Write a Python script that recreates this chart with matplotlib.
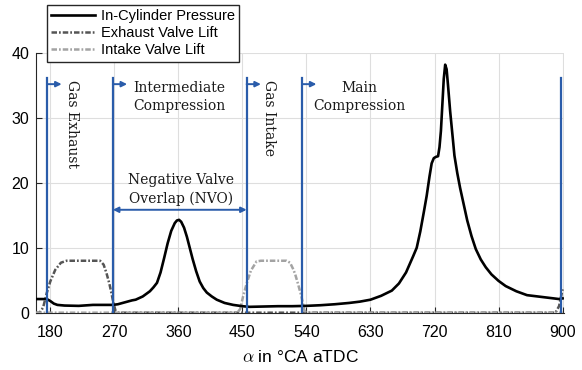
import numpy as np
import matplotlib
matplotlib.use("Agg")
from matplotlib import pyplot as plt

plt.rcParams['font.family'] = ['Liberation Sans', 'DejaVu Sans']
plt.rcParams['mathtext.fontset'] = 'cm'

# in-cylinder pressure (bar) over crank angle
p_ca = [160, 170, 176, 180, 185, 190, 200, 220, 240, 255, 268, 275, 285, 295, 300,
        310, 315, 320, 325, 330, 335, 340, 345, 350, 355, 358, 361, 364, 368, 372, 376,
        380, 385, 390, 395, 400, 407, 414, 425, 437, 450, 460, 480, 500, 520, 540,
        560, 580, 600, 615, 630, 645, 660, 670, 680, 690, 695, 700, 705, 709, 713,
        716, 719, 722, 725, 727, 729, 731, 733, 735, 737, 739, 742, 746, 748, 752,
        756, 760, 766, 772, 778, 785, 792, 800, 810, 820, 835, 850, 865, 880, 895, 900]
p_val = [2.1, 2.1, 2.05, 1.8, 1.4, 1.2, 1.1, 1.05, 1.2, 1.2, 1.2, 1.3, 1.6, 1.9, 2.0,
         2.5, 2.9, 3.3, 3.9, 4.6, 6.2, 8.4, 10.7, 12.6, 13.8, 14.2, 14.3, 14.0, 13.1, 11.7, 10.0,
         8.3, 6.4, 4.8, 3.8, 3.1, 2.5, 2.0, 1.5, 1.2, 1.0, 0.9, 0.95, 1.0, 1.0, 1.05,
         1.15, 1.3, 1.5, 1.7, 2.0, 2.6, 3.4, 4.5, 6.2, 8.7, 10.0, 12.5, 15.5, 18.0, 21.0,
         23.0, 23.8, 24.0, 24.1, 25.5, 28.0, 32.0, 36.0, 38.2, 37.5, 35.0, 31.0, 26.5, 24.2, 21.5,
         19.2, 17.2, 14.2, 11.8, 9.8, 8.2, 7.0, 5.9, 4.9, 4.1, 3.3, 2.7, 2.5, 2.3, 2.1, 2.2]

# exhaust valve lift
ex_ca = [160, 165, 170, 175, 180, 187, 195, 203, 250, 255, 259, 263, 266, 269, 272, 275, 890, 895, 900]
ex_val = [0, 0, 0.8, 3.0, 4.8, 6.6, 7.7, 8.0, 8.0, 7.4, 6.1, 4.5, 3.0, 1.4, 0.2, 0, 0, 1.0, 3.6]

# intake valve lift
in_ca = [160, 443, 447, 451, 456, 462, 470, 476, 512, 517, 521, 524, 528, 533, 537, 540, 900]
in_val = [0, 0, 0.6, 2.5, 4.5, 6.5, 7.9, 8.0, 8.0, 7.7, 6.8, 6.0, 4.5, 2.5, 0.4, 0, 0]

# phase markers
marks = [176, 268, 456, 534, 898]
arrow_from = [176, 268, 456, 534]

xticks = [180, 270, 360, 450, 540, 630, 720, 810, 900]
yticks = [0, 10, 20, 30, 40]

blue = '#2a5caa'

fig = plt.figure(figsize=(5.82, 3.70), dpi=100)
ax = fig.add_axes([0.0619, 0.1549, 0.9072, 0.7019])

dashdot = (0, (2.2, 0.8, 0.7, 0.8))
l1, = ax.plot(p_ca, p_val, color='black', lw=1.9, zorder=4)
l2, = ax.plot(ex_ca, ex_val, color='#555555', lw=1.8, ls=dashdot, zorder=3)
l3, = ax.plot(in_ca, in_val, color='#a3a3a3', lw=1.8, ls=dashdot, zorder=3)

for m in marks:
    ax.plot([m, m], [0, 36.2], color=blue, lw=1.6, zorder=5)
for a in arrow_from:
    ax.annotate('', xy=(a + 20, 35.2), xytext=(a, 35.2),
                arrowprops=dict(arrowstyle='-|>', color=blue, lw=1.4,
                                mutation_scale=8, shrinkA=0, shrinkB=0))
ax.annotate('', xy=(456, 15.85), xytext=(268, 15.85),
            arrowprops=dict(arrowstyle='<|-|>', color=blue, lw=1.4,
                            mutation_scale=8, shrinkA=0, shrinkB=0))

serif = dict(family='DejaVu Serif', fontsize=10, color='#1a1a1a')
ax.text(210, 35.9, 'Gas Exhaust', rotation=-90, ha='center', va='top', **serif)
ax.text(488, 35.9, 'Gas Intake', rotation=-90, ha='center', va='top', **serif)
ax.text(362, 33.2, 'Intermediate\nCompression', ha='center', va='center', linespacing=1.4, **serif)
ax.text(615, 33.2, 'Main\nCompression', ha='center', va='center', linespacing=1.4, **serif)
ax.text(364, 19.0, 'Negative Valve\nOverlap (NVO)', ha='center', va='center', linespacing=1.4, **serif)

ax.set_xlim(160, 902)
ax.set_ylim(0, 40)
ax.set_xticks(xticks)
ax.set_yticks(yticks)
ax.grid(True, color='#dedede', lw=0.8)
ax.set_axisbelow(True)
for s in ['top', 'right']:
    ax.spines[s].set_visible(False)
for s in ['left', 'bottom']:
    ax.spines[s].set_color('#262626')
    ax.spines[s].set_linewidth(0.8)
ax.tick_params(direction='in', length=4, width=0.8, color='#262626', labelsize=11.5)
ax.tick_params(axis='x', pad=9)
ax.tick_params(axis='y', pad=5)
ax.set_xlabel(r'$\alpha$ in °CA aTDC', fontsize=12.5, labelpad=6)

leg = fig.legend([l1, l2, l3], ['In-Cylinder Pressure', 'Exhaust Valve Lift', 'Intake Valve Lift'],
                 loc='upper left', bbox_to_anchor=(47 / 582, 1 - 5 / 370), borderaxespad=0,
                 fontsize=10.5, fancybox=False, framealpha=1, edgecolor='#262626',
                 handlelength=3, handletextpad=0.4, labelspacing=0.2, borderpad=0.3)
leg.get_frame().set_linewidth(1.0)

fig.savefig('out.png', dpi=100)
